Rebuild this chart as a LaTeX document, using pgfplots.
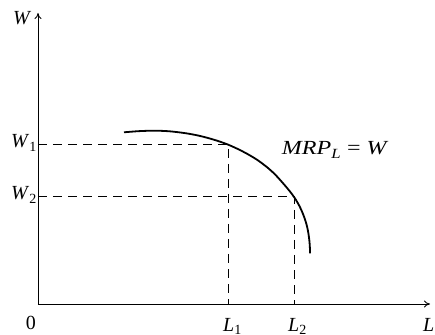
\documentclass[border=0pt]{standalone}
\usepackage{pgfplots}
\pgfplotsset{compat=1.18}
\usetikzlibrary{arrows.meta}
\usepackage{fontspec}
\setmainfont{Liberation Serif}
\begin{document}
\begin{tikzpicture}
\tikzset{lbl/.style={font=\fontsize{20}{24}\selectfont, inner sep=0pt, anchor=base west}}
\begin{axis}[
    x=1pt, y=1pt,
    xmin=0, xmax=392, ymin=0, ymax=291,
    axis lines=left,
    axis line style={line width=0.9pt, -{To[length=6pt,width=7pt]}},
    xtick=\empty, ytick=\empty,
    clip=false,
]
% W_1 and W_2 guide lines
\addplot[black, line width=0.7pt, dash pattern=on 9pt off 6pt] coordinates {(0,160) (190,160) (190,0)};
\addplot[black, line width=0.7pt, dash pattern=on 9pt off 6pt] coordinates {(0,108) (256,108) (256,0)};
% MRP_L curve
\addplot[black, line width=1.8pt, smooth, tension=0.5] coordinates {
    (86,171.7) (100,172.8) (110,173.2) (118.7,173.3) (130,172.8) (140,171.8)
    (150,170.4) (160,168.5) (170,166.0) (180,163.0) (190,159.4) (200,154.9)
    (210,149.7) (220,143.6) (230,136.0) (237.1,129.5) (243.5,122.5) (249.1,116)
    (253.9,110) (258,104) (261.4,98) (264.2,92) (266.5,86) (268.4,80)
    (269.8,74) (270.8,68) (271.5,62) (271.9,56) (272,50.7)
};
\node[lbl, anchor=base] at (axis cs:-7,-25) {0};
\node[lbl] at (axis cs:185,-27) {\textit{L}\textsubscript{1}};
\node[lbl] at (axis cs:250,-27) {\textit{L}\textsubscript{2}};
\node[lbl] at (axis cs:385,-27) {\textit{L}};
\node[lbl] at (axis cs:-27,156) {\textit{W}\textsubscript{1}};
\node[lbl] at (axis cs:-27,104) {\textit{W}\textsubscript{2}};
\node[lbl] at (axis cs:-25,279) {\textit{W}};
\node[lbl, xscale=1.2] at (axis cs:243.7,149) {\textit{MRP}\textsubscript{\textit{L}} = \textit{W}};
\path (axis cs:-38,-30) rectangle (axis cs:397,304);
\end{axis}
\end{tikzpicture}
\end{document}
